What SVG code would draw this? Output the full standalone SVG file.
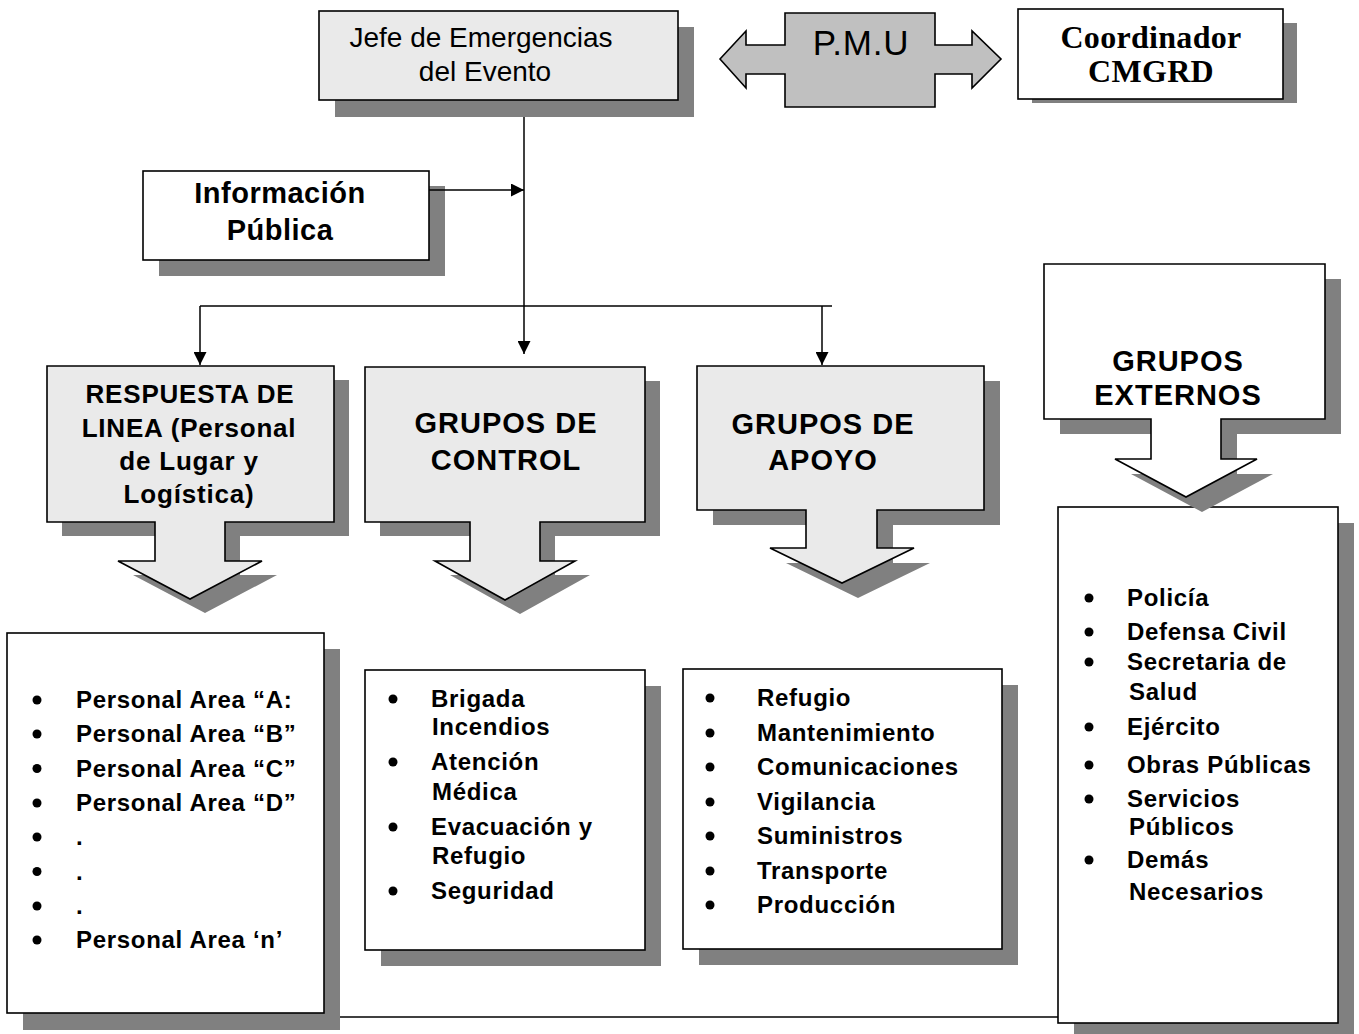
<svg xmlns="http://www.w3.org/2000/svg" width="1359" height="1034" viewBox="0 0 1359 1034">
<style>
.sh{fill:#808080;stroke:none}
.box{stroke:#000;stroke-width:1.6}
.lt{fill:#eaeaea}
.wh{fill:#fff}
.ln{stroke:#000;stroke-width:1.5;fill:none}
.t{font-family:"Liberation Sans",Arial,sans-serif;fill:#000}
.hd{font-weight:bold;font-size:29px;letter-spacing:1px;text-anchor:middle}
.li{font-weight:bold;font-size:24px;letter-spacing:0.7px}
.bu{fill:#000}
</style>
<defs>
<marker id="ah" viewBox="0 0 10 10" refX="10" refY="5" markerWidth="13" markerHeight="13" markerUnits="userSpaceOnUse" orient="auto">
<path d="M0,0 L10,5 L0,10 Z" fill="#000"/>
</marker>
</defs>
<rect width="1359" height="1034" fill="#fff"/>

<g id="jefe">
<rect class="sh" x="335" y="27" width="359" height="90"/>
<rect class="box lt" x="319" y="11" width="359" height="89"/>
<text class="t" font-size="28" text-anchor="middle"><tspan x="481" y="47">Jefe de Emergencias</tspan><tspan x="485" y="81">del Evento</tspan></text>
</g>

<g id="pmu">
<polygon class="box" fill="#c0c0c0" points="720,59 746,31 746,45 785,45 785,13 935,13 935,45 972,45 972,31 1001,59 972,88 972,74 935,74 935,107 785,107 785,74 746,74 746,88"/>
<text class="t" font-size="35" letter-spacing="0.8" text-anchor="middle" x="861" y="55">P.M.U</text>
</g>

<g id="coordinador">
<rect class="sh" x="1032" y="23" width="265" height="80"/>
<rect class="box wh" x="1018" y="9" width="265" height="90"/>
<text font-family="'Liberation Serif','Times New Roman',serif" font-weight="bold" font-size="32" letter-spacing="0.3" text-anchor="middle"><tspan x="1151" y="48">Coordinador</tspan><tspan x="1151" y="82">CMGRD</tspan></text>
</g>

<g id="informacion">
<rect class="sh" x="159" y="186" width="286" height="90"/>
<rect class="box wh" x="143" y="171" width="286" height="89"/>
<text class="t" font-weight="bold" font-size="29" letter-spacing="0.5" text-anchor="middle"><tspan x="280" y="203">Información</tspan><tspan x="280" y="240">Pública</tspan></text>
</g>

<g id="respuesta">
<path class="sh" transform="translate(15,14)" d="M47,366 H334 V522 H225 V561 H262 L190,599 L118,561 H155 V522 H47 Z"/>
<path class="box lt" d="M47,366 H334 V522 H225 V561 H262 L190,599 L118,561 H155 V522 H47 Z"/>
<text class="t" font-weight="bold" font-size="26" letter-spacing="0.8" text-anchor="middle"><tspan x="190" y="403">RESPUESTA DE</tspan><tspan x="189" y="437">LINEA (Personal</tspan><tspan x="189" y="470">de Lugar y</tspan><tspan x="189" y="503">Logística)</tspan></text>
</g>

<g id="control">
<path class="sh" transform="translate(15,14)" d="M365,367 H645 V522 H540 V561 H575 L505,600 L435,561 H470 V522 H365 Z"/>
<path class="box lt" d="M365,367 H645 V522 H540 V561 H575 L505,600 L435,561 H470 V522 H365 Z"/>
<text class="t hd"><tspan x="506" y="433">GRUPOS DE</tspan><tspan x="506" y="470">CONTROL</tspan></text>
</g>

<g id="apoyo">
<path class="sh" transform="translate(16,15)" d="M697,366 H984 V510 H877 V548 H914 L842,583 L770,548 H806 V510 H697 Z"/>
<path class="box lt" d="M697,366 H984 V510 H877 V548 H914 L842,583 L770,548 H806 V510 H697 Z"/>
<text class="t hd"><tspan x="823" y="434">GRUPOS DE</tspan><tspan x="823" y="470">APOYO</tspan></text>
</g>

<g id="lista-linea">
<rect class="sh" x="23" y="649" width="317" height="381"/>
<rect class="box wh" x="7" y="633" width="317" height="380"/>
<g class="bu">
<circle cx="37" cy="700" r="4.5"/><circle cx="37" cy="734" r="4.5"/><circle cx="37" cy="768.5" r="4.5"/><circle cx="37" cy="803" r="4.5"/><circle cx="37" cy="837" r="4.5"/><circle cx="37" cy="871.5" r="4.5"/><circle cx="37" cy="906" r="4.5"/><circle cx="37" cy="940" r="4.5"/>
</g>
<text class="t li"><tspan x="76" y="708">Personal Area “A:</tspan><tspan x="76" y="742">Personal Area “B”</tspan><tspan x="76" y="776.5">Personal Area “C”</tspan><tspan x="76" y="811">Personal Area “D”</tspan><tspan x="76" y="845">.</tspan><tspan x="76" y="879.5">.</tspan><tspan x="76" y="914">.</tspan><tspan x="76" y="948">Personal Area ‘n’</tspan></text>
</g>

<g id="lista-control">
<rect class="sh" x="381" y="686" width="280" height="280"/>
<rect class="box wh" x="365" y="670" width="280" height="280"/>
<g class="bu">
<circle cx="393" cy="699" r="4.5"/><circle cx="393" cy="762" r="4.5"/><circle cx="393" cy="827" r="4.5"/><circle cx="393" cy="891" r="4.5"/>
</g>
<text class="t li"><tspan x="431" y="707">Brigada</tspan><tspan x="432" y="735">Incendios</tspan><tspan x="431" y="770">Atención</tspan><tspan x="432" y="800">Médica</tspan><tspan x="431" y="835">Evacuación y</tspan><tspan x="432" y="864">Refugio</tspan><tspan x="431" y="899">Seguridad</tspan></text>
</g>

<g id="lista-apoyo">
<rect class="sh" x="699" y="685" width="319" height="280"/>
<rect class="box wh" x="683" y="669" width="319" height="280"/>
<g class="bu">
<circle cx="710" cy="698" r="4.5"/><circle cx="710" cy="733" r="4.5"/><circle cx="710" cy="767" r="4.5"/><circle cx="710" cy="802" r="4.5"/><circle cx="710" cy="836" r="4.5"/><circle cx="710" cy="871" r="4.5"/><circle cx="710" cy="905" r="4.5"/>
</g>
<text class="t li"><tspan x="757" y="706">Refugio</tspan><tspan x="757" y="741">Mantenimiento</tspan><tspan x="757" y="775">Comunicaciones</tspan><tspan x="757" y="810">Vigilancia</tspan><tspan x="757" y="844">Suministros</tspan><tspan x="757" y="879">Transporte</tspan><tspan x="757" y="913">Producción</tspan></text>
</g>

<g id="lista-externos">
<rect class="sh" x="1074" y="523" width="280" height="516"/>
<rect class="box wh" x="1058" y="507" width="280" height="516"/>
<g class="bu">
<circle cx="1089" cy="598" r="4.5"/><circle cx="1089" cy="632" r="4.5"/><circle cx="1089" cy="662" r="4.5"/><circle cx="1089" cy="727" r="4.5"/><circle cx="1089" cy="765" r="4.5"/><circle cx="1089" cy="799" r="4.5"/><circle cx="1089" cy="860" r="4.5"/>
</g>
<text class="t li"><tspan x="1127" y="606">Policía</tspan><tspan x="1127" y="640">Defensa Civil</tspan><tspan x="1127" y="670">Secretaria de</tspan><tspan x="1129" y="700">Salud</tspan><tspan x="1127" y="735">Ejército</tspan><tspan x="1127" y="773">Obras Públicas</tspan><tspan x="1127" y="807">Servicios</tspan><tspan x="1129" y="835">Públicos</tspan><tspan x="1127" y="868">Demás</tspan><tspan x="1129" y="900">Necesarios</tspan></text>
</g>

<g id="externos">
<path class="sh" transform="translate(16,15)" d="M1044,264 H1325 V419 H1221 V459 H1257 L1186,497 L1115,459 H1151 V419 H1044 Z"/>
<path class="box wh" d="M1044,264 H1325 V419 H1221 V459 H1257 L1186,497 L1115,459 H1151 V419 H1044 Z"/>
<text class="t hd"><tspan x="1178" y="371">GRUPOS</tspan><tspan x="1178" y="405">EXTERNOS</tspan></text>
</g>

<g id="connectors">
<line class="ln" x1="524" y1="117" x2="524" y2="354" marker-end="url(#ah)"/>
<line class="ln" x1="429" y1="190" x2="524" y2="190" marker-end="url(#ah)"/>
<polyline class="ln" points="200,306 832,306"/>
<line class="ln" x1="200" y1="306" x2="200" y2="365" marker-end="url(#ah)"/>
<line class="ln" x1="822" y1="306" x2="822" y2="365" marker-end="url(#ah)"/>
<line class="ln" x1="340" y1="1017" x2="1058" y2="1017"/>
</g>
</svg>
